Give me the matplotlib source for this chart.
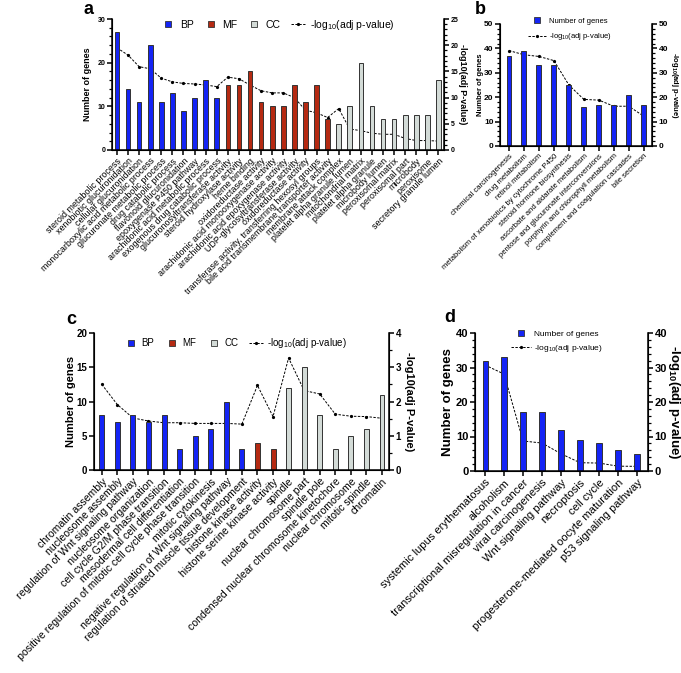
import matplotlib
matplotlib.use("Agg")
import matplotlib.pyplot as plt
from matplotlib.lines import Line2D
from matplotlib.ticker import MultipleLocator

plt.rcParams['font.family'] = ['Liberation Sans', 'DejaVu Sans']
plt.rcParams['mathtext.default'] = 'regular'

BLUE = '#1424f5'
RED = '#b52a12'
GREY = '#d3dbd7'

# ---- panel a (GO terms) ----
a_bp = ["steroid metabolic process", "xenobiotic glucuronidation", "cellular glucuronidation",
        "monocarboxylic acid metabolic process", "glucuronate metabolic process",
        "drug catabolic process", "flavonoid glucuronidation", "epoxygenase P450 pathway",
        "arachidonic acid metabolic process", "exogenous drug catabolic process"]
a_mf = ["glucuronosyltransferase activity", "steroid hydroxylase activity", "heme binding",
        "oxidoreductase activity", "arachidonic acid monooxygenase activity",
        "arachidonic acid epoxygenase activity", "UDP-glycosyltransferase activity",
        "oxidoreductase activity", "transferase activity, transferring hexosyl groups",
        "bile acid transmembrane transporter activity"]
a_cc = ["membrane attack complex", "platelet alpha granule lumen", "mitochondrial matrix",
        "platelet alpha granule", "microbody lumen", "peroxisomal matrix", "peroxisomal part",
        "microbody", "peroxisome", "secretory granule lumen"]
a_bp_genes = [27, 14, 11, 24, 11, 13, 9, 12, 16, 12]
a_mf_genes = [15, 15, 18, 11, 10, 10, 15, 11, 15, 7]
a_cc_genes = [6, 10, 20, 10, 7, 7, 8, 8, 8, 16]
a_logp = [19.5, 18.1, 15.9, 15.5, 13.7, 13.0, 12.7, 12.6, 12.4, 12.1,
          13.9, 13.6, 12.4, 11.3, 10.9, 10.9, 10.0, 7.6, 7.1, 6.2,
          7.9, 4.0, 3.7, 3.2, 3.0, 3.0, 2.2, 1.8, 1.8, 1.7]

# ---- panel b (KEGG) ----
b_terms = ["chemical carcinogenesis", "drug metabolism", "retinol metabolism",
           "metabolism of xenobiotics by cytochrome P450", "steroid hormone biosynthesis",
           "ascorbate and aldarate metabolism", "pentose and glucuronate interconversions",
           "porphyrin and chlorophyll metabolism", "complement and coagulation cascades",
           "bile secretion"]
b_genes = [37, 39, 33, 33, 25, 16, 17, 17, 21, 17]
b_logp = [39.1, 37.4, 36.7, 35.0, 25.0, 19.1, 18.8, 16.3, 16.3, 12.2]

# ---- panel c (GO terms) ----
c_bp = ["chromatin assembly", "nucleosome assembly", "regulation of Wnt signaling pathway",
        "nucleosome organization", "cell cycle G2/M phase transition",
        "mesodermal cell differentiation",
        "positive regulation of mitotic cell cycle phase transition", "mitotic cytokinesis",
        "negative regulation of Wnt signaling pathway",
        "regulation of striated muscle tissue development"]
c_mf = ["histone kinase activity", "histone serine kinase activity"]
c_cc = ["spindle", "nuclear chromosome part", "spindle pole",
        "condensed nuclear chromosome kinetochore", "nuclear chromosome", "mitotic spindle",
        "chromatin"]
c_bp_genes = [8, 7, 8, 7, 8, 3, 5, 6, 10, 3]
c_mf_genes = [4, 3]
c_cc_genes = [12, 15, 8, 3, 5, 6, 11]
c_logp = [2.5, 1.91, 1.52, 1.43, 1.38, 1.38, 1.36, 1.36, 1.36, 1.34,
          2.47, 1.56, 3.27, 2.32, 2.22, 1.63, 1.57, 1.56, 1.51]

# ---- panel d (KEGG) ----
d_terms = ["systemic lupus erythematosus", "alcoholism",
           "transcriptional misregulation in cancer", "viral carcinogenesis",
           "Wnt signaling pathway", "necroptosis", "cell cycle",
           "progesterone-mediated oocyte maturation", "p53 signaling pathway"]
d_genes = [32, 33, 17, 17, 12, 9, 8, 6, 5]
d_logp = [30.7, 28.1, 8.7, 8.1, 5.0, 2.4, 2.3, 1.4, 1.35]

W, H = 681, 673


def style_axes(ax, ax2, lw=1.1):
    ax.spines['top'].set_visible(False)
    ax2.spines['top'].set_visible(False)
    for sp in ['left', 'bottom']:
        ax.spines[sp].set_linewidth(lw)
    ax2.spines['right'].set_linewidth(lw)
    for a in (ax, ax2):
        a.tick_params(which='major', width=lw, length=3.5, direction='out', pad=1.2)
        a.tick_params(which='minor', width=lw * 0.8, length=2, direction='out')


def panel(box, labels, groups, logp, ylim, y2lim, xlim, width, fonts, right_label,
          letter, letter_xy, leg_xy, leg_kw, label_x):
    lab_fs, tick_fs, ylab_fs, leg_fs = fonts
    l, t, r, b = box
    ax = fig.add_axes([l / W, 1 - b / H, (r - l) / W, (b - t) / H])
    x = list(range(len(labels)))
    start = 0
    handles = []
    for vals, col, name in groups:
        xs = x[start:start + len(vals)]
        ax.bar(xs, vals, width=width, color=col, edgecolor='#333333', linewidth=0.7, zorder=2)
        start += len(vals)
        handles.append(Line2D([], [], marker='s', ls='none', markersize=4,
                              markerfacecolor=col, markeredgecolor='#333333',
                              markeredgewidth=0.6, label=name))
    ax2 = ax.twinx()
    ax2.plot(x, logp, color='black', ls=(0, (2.5, 1.5)), lw=0.7, marker='o',
             markersize=1.3, zorder=3)
    handles.append(Line2D([], [], color='black', ls=(0, (2.5, 1.5)), lw=0.7, marker='o',
                          markersize=1.3, label='-log$_{10}$(adj p-value)'))
    ax.set_xlim(*xlim)
    ax.set_ylim(0, ylim[0])
    ax2.set_ylim(0, y2lim[0])
    ax.yaxis.set_major_locator(MultipleLocator(ylim[1]))
    ax2.yaxis.set_major_locator(MultipleLocator(y2lim[1]))
    if ylim[2]:
        ax.yaxis.set_minor_locator(MultipleLocator(ylim[2]))
    if y2lim[2]:
        ax2.yaxis.set_minor_locator(MultipleLocator(y2lim[2]))
    ax.set_xticks(x)
    ax.set_xticklabels(labels, rotation=45, ha='right', rotation_mode='anchor',
                       fontsize=lab_fs)
    for tl in ax.get_yticklabels() + ax2.get_yticklabels():
        tl.set_fontsize(tick_fs)
        tl.set_fontweight('bold')
    ax.set_ylabel('Number of genes', fontsize=ylab_fs, fontweight='bold',
                  ha='center', va='center')
    ax2.set_ylabel(right_label, fontsize=ylab_fs, fontweight='bold', rotation=270,
                   ha='center', va='center')
    # label centres given in figure pixels
    ax.yaxis.set_label_coords((label_x[0] - l) / (r - l), 0.5)
    ax2.yaxis.set_label_coords((label_x[1] - l) / (r - l), 0.5)
    style_axes(ax, ax2)
    ax.set_zorder(ax2.get_zorder() + 1)
    ax.patch.set_visible(False)
    ax.legend(handles=handles, frameon=False, fontsize=leg_fs, handletextpad=0.4,
              loc='center left', borderaxespad=0, borderpad=0,
              bbox_to_anchor=(leg_xy[0] / W, 1 - leg_xy[1] / H),
              bbox_transform=fig.transFigure, **leg_kw)
    fig.text(letter_xy[0] / W, 1 - letter_xy[1] / H, letter, fontsize=13,
             fontweight='bold', va='center', ha='center')
    return ax


fig = plt.figure(figsize=(W / 100, H / 100), dpi=100)

panel((112, 19, 444, 150), a_bp + a_mf + a_cc,
      [(a_bp_genes, BLUE, 'BP'), (a_mf_genes, RED, 'MF'), (a_cc_genes, GREY, 'CC')],
      a_logp, (30, 10, 2), (25, 5, 1), (-0.45, 29.5), 0.42, (6.4, 5.0, 6.5, 7.5),
      '-log10(adj P-value)', 'a', (89, 9), (161, 25),
      dict(ncol=4, columnspacing=0.95, handlelength=1.4), (88, 463))

panel((500, 24, 652, 146), b_terms, [(b_genes, BLUE, 'Number of genes')],
      b_logp, (50, 10, 2), (50, 10, 2), (-0.6, 9.55), 0.33, (5.5, 6, 5.5, 5.5),
      '-log$_{10}$(adj p-value)', 'b', (480, 9), (528, 30),
      dict(ncol=1, handlelength=2.4, labelspacing=0.85), (480, 674))

panel((94, 333, 389, 470), c_bp + c_mf + c_cc,
      [(c_bp_genes, BLUE, 'BP'), (c_mf_genes, RED, 'MF'), (c_cc_genes, GREY, 'CC')],
      c_logp, (20, 5, 0), (4, 1, 0.5), (-0.5, 18.45), 0.32, (7.6, 7, 8, 7),
      '-log10(adj P-value)', 'c', (71, 320), (124, 343),
      dict(ncol=4, columnspacing=1.1, handlelength=1.4), (71, 409))

panel((475, 333, 648, 471), d_terms, [(d_genes, BLUE, 'Number of genes')],
      d_logp, (40, 10, 2), (40, 10, 2), (-0.53, 8.58), 0.27, (8, 8, 9.5, 6),
      '-log$_{10}$(adj p-value)', 'd', (450, 318), (511, 342),
      dict(ncol=1, handlelength=2.4, labelspacing=0.55), (448, 674))

fig.savefig('out.png', dpi=100)
